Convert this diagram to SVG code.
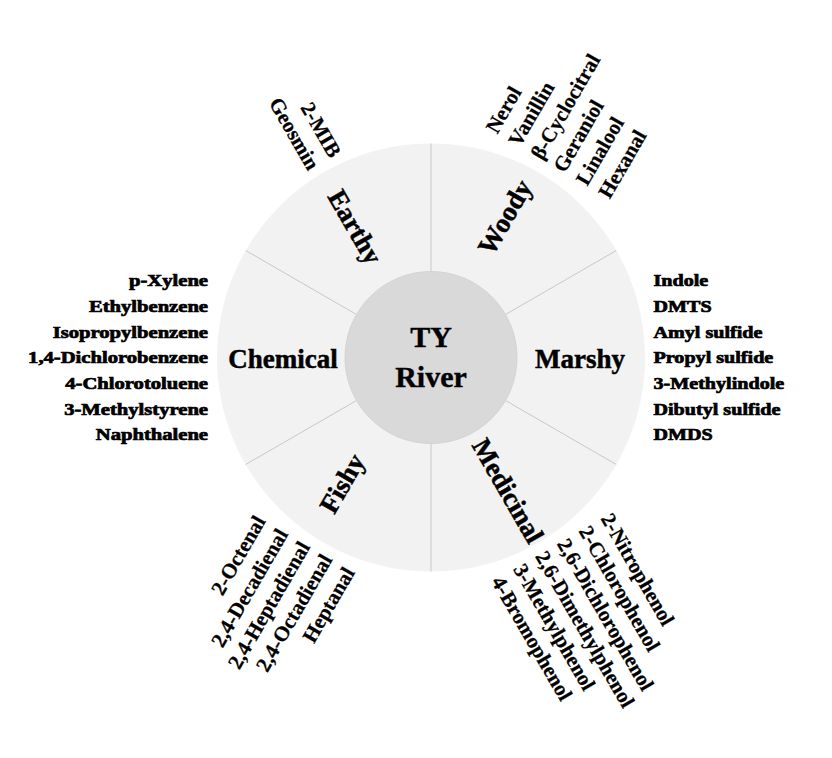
<svg xmlns="http://www.w3.org/2000/svg" width="832" height="758" viewBox="0 0 832 758">
<style>
text{font-family:"Liberation Serif","Times New Roman",serif;font-weight:bold;fill:#000}
.lst{font-size:16.5px;stroke:#000;stroke-width:0.7}
.rl{font-size:21px;stroke:#000;stroke-width:0.25}
.sec{font-size:27px;stroke:#000;stroke-width:0.5}
.ctr{font-size:30px;stroke:#000;stroke-width:0.4}
.div{stroke:#c8c8c8;stroke-width:1}
</style>
<rect width="832" height="758" fill="#fff"/>
<g id="ring">
<circle cx="431" cy="357.5" r="214" fill="#f2f2f2"/>
</g>
<g id="connectors" class="div">
<line x1="431" y1="271.5" x2="431" y2="143.5"/>
<line x1="431" y1="443.5" x2="431" y2="571.5"/>
<line x1="505.5" y1="314.5" x2="616.3" y2="250.5"/>
<line x1="505.5" y1="400.5" x2="616.3" y2="464.5"/>
<line x1="356.5" y1="314.5" x2="245.7" y2="250.5"/>
<line x1="356.5" y1="400.5" x2="245.7" y2="464.5"/>
</g>
<g id="center">
<circle cx="431" cy="357.5" r="86" fill="#d9d9d9" stroke="#d3d3d3" stroke-width="1"/>
<text class="ctr" x="431" y="347" text-anchor="middle">TY</text>
<text class="ctr" x="431" y="387" text-anchor="middle">River</text>
</g>
<g id="earthy" transform="translate(431 357.5) rotate(60)">
<text class="sec" x="-151" y="9.5" text-anchor="middle">Earthy</text>
<text class="rl" x="-222.5" y="-11.5" text-anchor="end">2-MIB</text>
<text class="rl" x="-222.5" y="13.5" text-anchor="end">Geosmin</text>
</g>
<g id="woody" transform="translate(431 357.5) rotate(-60)">
<text class="sec" x="158.5" y="3" text-anchor="middle">Woody</text>
<text class="rl" x="226" y="-54" text-anchor="start">Nerol</text>
<text class="rl" x="226" y="-28" text-anchor="start">Vanillin</text>
<text class="rl" x="226" y="-2" text-anchor="start">β-Cyclocitral</text>
<text class="rl" x="226" y="24" text-anchor="start">Geraniol</text>
<text class="rl" x="226" y="50" text-anchor="start">Linalool</text>
<text class="rl" x="226" y="76" text-anchor="start">Hexanal</text>
</g>
<g id="marshy">
<text class="sec" x="580" y="368" text-anchor="middle">Marshy</text>
<g transform="translate(653.5 0) scale(1.22 1)">
<text class="lst" x="0" y="286.5">Indole</text>
<text class="lst" x="0" y="312">DMTS</text>
<text class="lst" x="0" y="338">Amyl sulfide</text>
<text class="lst" x="0" y="363.5">Propyl sulfide</text>
<text class="lst" x="0" y="389">3-Methylindole</text>
<text class="lst" x="0" y="415">Dibutyl  sulfide</text>
<text class="lst" x="0" y="440.5">DMDS</text>
</g>
</g>
<g id="chemical">
<text class="sec" x="283" y="368" text-anchor="middle">Chemical</text>
<g transform="translate(208 0) scale(1.25 1)">
<text class="lst" x="0" y="286.5" text-anchor="end">p-Xylene</text>
<text class="lst" x="0" y="312" text-anchor="end">Ethylbenzene</text>
<text class="lst" x="0" y="338" text-anchor="end">Isopropylbenzene</text>
<text class="lst" x="0" y="363.5" text-anchor="end">1,4-Dichlorobenzene</text>
<text class="lst" x="0" y="389" text-anchor="end">4-Chlorotoluene</text>
<text class="lst" x="0" y="415" text-anchor="end">3-Methylstyrene</text>
<text class="lst" x="0" y="440.5" text-anchor="end">Naphthalene</text>
</g>
</g>
<g id="fishy" transform="translate(431 357.5) rotate(-60)">
<text class="sec" x="-153.5" y="-5" text-anchor="middle">Fishy</text>
<text class="rl" x="-224" y="-61" text-anchor="end">2-Octenal</text>
<text class="rl" x="-224" y="-35" text-anchor="end">2,4-Decadienal</text>
<text class="rl" x="-224" y="-9.5" text-anchor="end">2,4-Heptadienal</text>
<text class="rl" x="-224" y="16" text-anchor="end">2,4-Octadienal</text>
<text class="rl" x="-224" y="42" text-anchor="end">Heptanal</text>
</g>
<g id="medicinal" transform="translate(431 357.5) rotate(60)">
<text class="sec" x="154" y="9" text-anchor="middle">Medicinal</text>
<text class="rl" x="224" y="-66" text-anchor="start">2-Nitrophenol</text>
<text class="rl" x="224" y="-40.8" text-anchor="start">2-Chlorophenol</text>
<text class="rl" x="224" y="-15.6" text-anchor="start">2,6-Dichlorophenol</text>
<text class="rl" x="224" y="9.6" text-anchor="start">2,6-Dimethylphenol</text>
<text class="rl" x="224" y="34.8" text-anchor="start">3-Methylphenol</text>
<text class="rl" x="224" y="60" text-anchor="start">4-Bromophenol</text>
</g>
</svg>
